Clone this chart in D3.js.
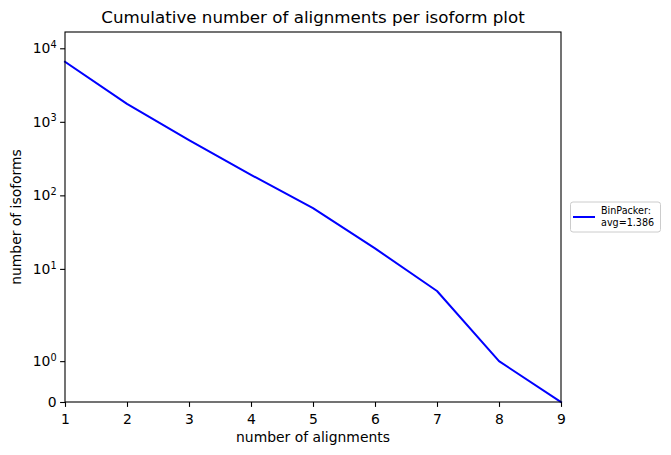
<!DOCTYPE html>
<html><head><meta charset="utf-8">
<script src="https://cdn.jsdelivr.net/npm/d3@7"></script>
<style>
body{margin:0;background:#fff;}
text{font-family:"DejaVu Sans",sans-serif;fill:#000;}
</style></head>
<body>
<svg id="c" width="671" height="455"></svg>
<script>
const alignments = [1,2,3,4,5,6,7,8,9];
const isoforms = [6550,1750,565,190,67,19,5,1,0];
const yTickValues = [0,1,10,100,1000,10000];
const xTickValues = [1,2,3,4,5,6,7,8,9];
const seriesName = "BinPacker:";
const seriesAvg = "avg=1.386";

const L=65, R=561, T=32, B=402;
const svg = d3.select("#c");
svg.append("rect").attr("width",671).attr("height",455).attr("fill","#fff");

// matplotlib-like symlog (linthresh=2, linscale=1)
const linthresh = 2, lsa = 1/(1-1/10);
function sl(v){ const a=Math.abs(v); return a<=linthresh ? v*lsa : Math.sign(v)*linthresh*(lsa+Math.log10(a/linthresh)); }
const yTop = 10.063;
const yLin = d3.scaleLinear().domain([0,yTop]).range([B,T]);
const y = v => yLin(sl(v));
const x = d3.scaleLinear().domain([1,9]).range([L,R]);

// line
const line = d3.line().x((d,i)=>x(alignments[i])).y(d=>y(d));
svg.append("path").datum(isoforms).attr("d",line)
  .attr("fill","none").attr("stroke","#0000ff").attr("stroke-width",2)
  .attr("stroke-linejoin","round").attr("stroke-linecap","square");

// axes
const xAxis = svg.append("g").attr("transform",`translate(0,${B})`)
  .call(d3.axisBottom(x).tickValues(xTickValues).tickFormat(d3.format("d")).tickSize(4.9).tickPadding(3.5));
const yAxis = svg.append("g").attr("transform",`translate(${L},0)`)
  .call(d3.axisLeft(yLin).tickValues(yTickValues.map(sl)).tickSize(4.9).tickPadding(3.5).tickFormat(""));
[xAxis,yAxis].forEach(g=>{
  g.select(".domain").remove();
  g.selectAll(".tick line").attr("stroke","#000").attr("stroke-width",1.1);
  g.selectAll("text").attr("font-size",13.9).attr("font-family","DejaVu Sans").attr("fill","#000");
});
xAxis.selectAll("text").attr("dy","0.95em");
yAxis.selectAll(".tick text").each(function(d,i){
  const v = yTickValues[i];
  const t = d3.select(this).attr("dy","0.32em").attr("font-size",13.9);
  if(v===0){ t.text("0"); }
  else {
    const e = Math.round(Math.log10(v));
    t.append("tspan").text("10");
    t.append("tspan").attr("font-size",9.7).attr("dy","-0.55em").text(e);
  }
});

// frame
svg.append("rect").attr("x",L).attr("y",T).attr("width",R-L).attr("height",B-T)
  .attr("fill","none").attr("stroke","#000").attr("stroke-width",1.1);

// labels
svg.append("text").attr("x",(L+R)/2).attr("y",23).attr("text-anchor","middle")
  .attr("font-size",16.7).text("Cumulative number of alignments per isoform plot");
svg.append("text").attr("x",(L+R)/2).attr("y",442).attr("text-anchor","middle")
  .attr("font-size",13.9).text("number of alignments");
svg.append("text").attr("transform",`translate(21,${(T+B)/2}) rotate(-90)`).attr("text-anchor","middle")
  .attr("font-size",13.9).text("number of isoforms");

// legend
const lg = svg.append("g");
lg.append("rect").attr("x",570.5).attr("y",202).attr("width",90).attr("height",30).attr("rx",2.5)
  .attr("fill","#fff").attr("fill-opacity",0.8).attr("stroke","#cccccc").attr("stroke-width",1);
lg.append("line").attr("x1",573).attr("x2",595).attr("y1",217).attr("y2",217)
  .attr("stroke","#0000ff").attr("stroke-width",2);
lg.append("text").attr("x",601).attr("y",214).attr("font-size",9.6).text(seriesName);
lg.append("text").attr("x",601).attr("y",226).attr("font-size",9.6).text(seriesAvg);
</script>
</body></html>
